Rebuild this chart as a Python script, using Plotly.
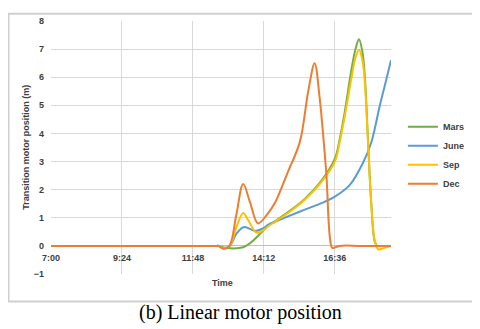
import plotly.graph_objects as go

# ── Farver (Excel-standard) ───────────────────────────────────────────────────
COLORS = {
    "mars": "#70ad47",
    "june": "#5b9bd5",
    "sep":  "#ffc000",
    "dec":  "#ed7d31",
    "grid": "#d9d9d9",
    "text": "#404040",
}

DAY = "2020-01-01 "

# ── Data ──────────────────────────────────────────────────────────────────────
mars_t = ["07:00", "10:00", "12:00", "12:36", "12:40", "12:55", "13:30", "13:44",
          "13:54", "14:10", "14:21", "14:34", "15:01", "15:35", "16:09", "16:36",
          "16:46", "16:56", "17:10", "17:18", "17:25", "17:32", "17:37", "17:43",
          "17:50", "17:57", "18:02", "18:15", "18:30"]
mars_y = [0, 0, 0, 0, 0, -0.07, -0.05, 0.1,
          0.25, 0.53, 0.72, 0.87, 1.2, 1.67, 2.32, 3.1,
          3.8, 4.75, 6.3, 7.0, 7.35, 6.9, 6.0, 3.9,
          1.5, 0.15, 0, 0, 0]

june_t = ["07:00", "10:00", "12:00", "12:36", "12:40", "12:50", "13:03", "13:17",
          "13:32", "13:54", "14:10", "14:21", "14:34", "15:01", "15:35", "16:09",
          "16:36", "17:06", "17:33", "17:50", "18:07", "18:17", "18:30"]
june_y = [0, 0, 0, 0, 0, -0.08, 0, 0.45,
          0.67, 0.53, 0.62, 0.76, 0.85, 1.05, 1.29, 1.52,
          1.75, 2.16, 2.95, 3.68, 4.97, 5.67, 6.6]

sep_t = ["07:00", "10:00", "12:00", "12:36", "12:40", "12:50", "13:03", "13:17",
         "13:30", "13:40", "13:57", "14:10", "14:21", "14:34", "15:01", "15:35",
         "16:09", "16:36", "16:46", "16:56", "17:10", "17:18", "17:25", "17:32",
         "17:37", "17:43", "17:50", "17:57", "18:04", "18:15", "18:30"]
sep_y = [0, 0, 0, 0, 0, -0.08, 0, 0.7,
         1.17, 0.92, 0.47, 0.55, 0.70, 0.85, 1.17, 1.64,
         2.28, 3.0, 3.7, 4.6, 6.0, 6.7, 6.98, 6.6,
         5.8, 3.8, 1.5, 0.2, -0.12, -0.08, 0]

dec_t = ["07:00", "10:00", "12:00", "12:36", "12:40", "12:50", "13:02", "13:16",
         "13:30", "13:44", "14:00", "14:20", "14:35", "15:00", "15:25", "15:42",
         "15:55", "16:05", "16:12", "16:19", "16:26", "16:31", "16:45", "17:30", "18:30"]
dec_y = [0, 0, 0, 0, 0, -0.1, 0, 1.1,
         2.2, 1.55, 0.8, 1.15, 1.55, 2.6, 3.7, 5.5,
         6.5, 5.3, 4.0, 2.5, 0.3, -0.07, 0, 0, 0]

series = [
    ("Mars", mars_t, mars_y, COLORS["mars"]),
    ("June", june_t, june_y, COLORS["june"]),
    ("Sep",  sep_t,  sep_y,  COLORS["sep"]),
    ("Dec",  dec_t,  dec_y,  COLORS["dec"]),
]

AXIS_FONT = dict(family="Liberation Sans, Arial, sans-serif", size=9,
                 color=COLORS["text"], weight="bold")

fig = go.Figure()
for name, t, y, color in series:
    fig.add_trace(go.Scatter(
        x=[DAY + s for s in t], y=y,
        mode="lines", name=name,
        line=dict(color=color, width=2, shape="spline", smoothing=1),
    ))

# siden har 8px body-margin, så figuren gøres 8px mindre
fig.update_layout(
    width=472, height=321,
    paper_bgcolor="white", plot_bgcolor="white",
    margin=dict(l=43, r=89, t=8, b=55),
    font=AXIS_FONT,
    showlegend=True,
    legend=dict(x=1.035, y=0.469, xanchor="left", yanchor="middle",
                font=AXIS_FONT, bgcolor="rgba(0,0,0,0)", tracegroupgap=0),
    xaxis=dict(
        type="date",
        range=[DAY + "07:00", DAY + "18:30"],
        tick0=DAY + "07:00", dtick=144 * 60 * 1000,
        tickformat="%-H:%M",
        showgrid=True, gridcolor=COLORS["grid"], gridwidth=1,
        zeroline=False, showline=False, ticks="",
        anchor="free", position=1 / 9, ticklabelstandoff=5,
        tickfont=AXIS_FONT,
    ),
    yaxis=dict(
        range=[-1, 8], dtick=1,
        showgrid=True, gridcolor=COLORS["grid"], gridwidth=1,
        zeroline=True, zerolinecolor="#bfbfbf", zerolinewidth=1,
        showline=False, ticks="", ticklabelstandoff=6,
        tickfont=AXIS_FONT,
    ),
)

# Aksetitler
fig.add_annotation(text="Time", xref="paper", yref="paper", x=0.503, y=-0.035,
                   showarrow=False, font=AXIS_FONT, xanchor="center", yanchor="middle")
fig.add_annotation(text="Transition motor position (m)", xref="paper", yref="paper",
                   x=-0.076, y=0.5, textangle=-90, showarrow=False, font=AXIS_FONT,
                   xanchor="center", yanchor="middle")

# Ramme om diagrammet
fig.add_shape(type="rect", xref="paper", yref="paper",
              x0=-0.125, x1=1.244, y0=-0.1085, y1=1.029,
              line=dict(color="#cfcfcf", width=2), layer="below")

# Billedtekst
fig.add_annotation(text="(b) Linear motor position", xref="paper", yref="paper",
                   x=0.556, y=-0.151, showarrow=False, xanchor="center", yanchor="middle",
                   font=dict(family="Liberation Serif, Times New Roman, serif",
                             size=20, color="black", weight="normal"))

fig.write_html("out.html")
